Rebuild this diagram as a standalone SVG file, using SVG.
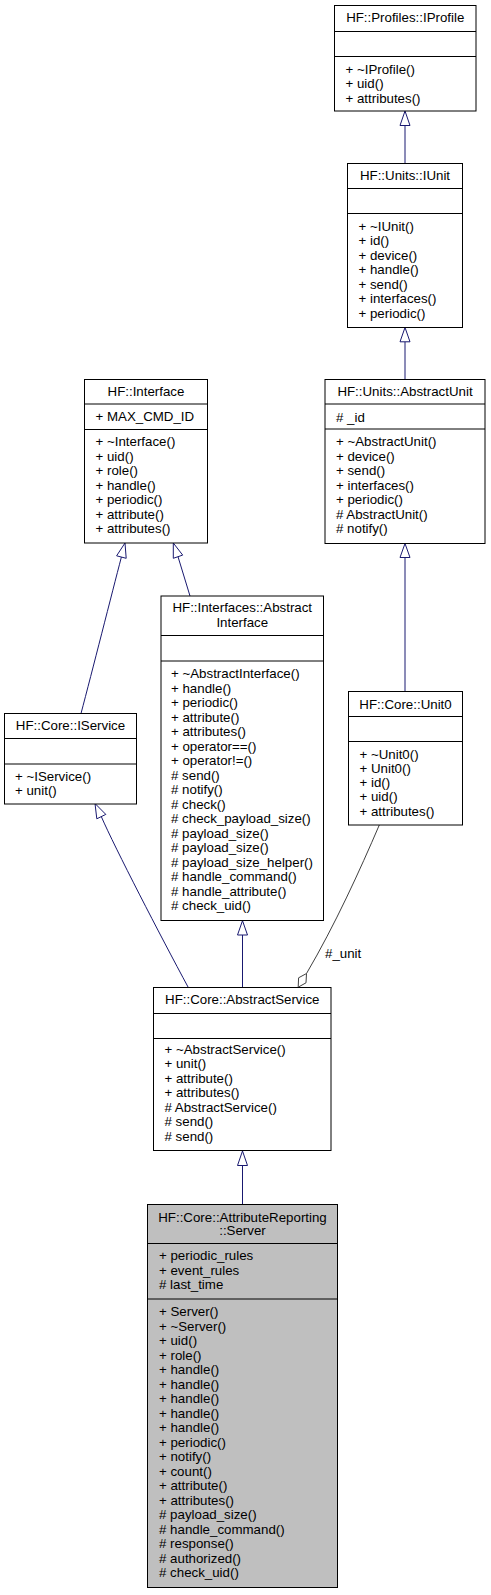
<svg xmlns="http://www.w3.org/2000/svg" width="491" height="1595" viewBox="0 0 491 1595">
<style>
.box{fill:#fff;stroke:#000;stroke-width:1}
.hl{fill:#bfbfbf;stroke:#000;stroke-width:1}
.sep{stroke:#000;stroke-width:1}
text{font-family:"Liberation Sans",Arial,sans-serif;font-size:13.3px;fill:#000}
.c{text-anchor:middle}
.edge{fill:none;stroke:#191970;stroke-width:1}
.ah{fill:#fff;stroke:#191970;stroke-width:1}
.agg{fill:none;stroke:#404040;stroke-width:1}
.dm{fill:#fff;stroke:#404040;stroke-width:1}
</style>
<rect x="0" y="0" width="491" height="1595" fill="#fff"/>
<g id="connectors">
  <line class="edge" x1="405" y1="163.5" x2="405" y2="125.5"/>
  <polygon class="ah" points="405,111 400,125.5 410,125.5"/>
  <line class="edge" x1="405" y1="379.5" x2="405" y2="341.8"/>
  <polygon class="ah" points="405,327.5 400,341.8 410,341.8"/>
  <line class="edge" x1="405" y1="691.5" x2="405" y2="557.5"/>
  <polygon class="ah" points="405,543.5 400,557.5 410,557.5"/>
  <path class="edge" d="M121.4,557 C112,593 92,672 81,713.5"/>
  <polygon class="ah" points="125,543 116.6,555.8 126.2,558.3"/>
  <path class="edge" d="M178,556.7 L190,596"/>
  <polygon class="ah" points="173.3,543 173.3,558.3 182.7,555.1"/>
  <path class="edge" d="M101.3,816.6 C115,848 160,935 188.3,987.5"/>
  <polygon class="ah" points="95,803.5 96.8,818.8 105.8,814.4"/>
  <line class="edge" x1="242.5" y1="987.5" x2="242.5" y2="935"/>
  <polygon class="ah" points="242.5,920.7 237.5,935 247.5,935"/>
  <line class="edge" x1="242.5" y1="1204.5" x2="242.5" y2="1165.5"/>
  <polygon class="ah" points="242.5,1151 237.5,1165.5 247.5,1165.5"/>
  <path class="agg" d="M379.3,825 C360,870 335,925 306.5,973.5"/>
  <polygon class="dm" points="306.5,973.5 306,982.8 298.2,987.2 298.6,977.8"/>
  <text x="325" y="958">#_unit</text>
</g>
<g id="node_iprofile">
  <rect class="box" x="334.5" y="5.5" width="141.5" height="105.5"/>
  <line class="sep" x1="334.5" y1="31.5" x2="476" y2="31.5"/>
  <line class="sep" x1="334.5" y1="56.5" x2="476" y2="56.5"/>
  <text class="c" x="405.25" y="22">HF::Profiles::IProfile</text>
  <text x="345.5" y="74">+ ~IProfile()</text>
  <text x="345.5" y="88.3">+ uid()</text>
  <text x="345.5" y="102.6">+ attributes()</text>
</g>
<g id="node_iunit">
  <rect class="box" x="347.5" y="163.5" width="115" height="164"/>
  <line class="sep" x1="347.5" y1="188.5" x2="462.5" y2="188.5"/>
  <line class="sep" x1="347.5" y1="213.5" x2="462.5" y2="213.5"/>
  <text class="c" x="405" y="180">HF::Units::IUnit</text>
  <text x="358.5" y="230.7">+ ~IUnit()</text>
  <text x="358.5" y="245.2">+ id()</text>
  <text x="358.5" y="259.7">+ device()</text>
  <text x="358.5" y="274.2">+ handle()</text>
  <text x="358.5" y="288.7">+ send()</text>
  <text x="358.5" y="303.2">+ interfaces()</text>
  <text x="358.5" y="317.7">+ periodic()</text>
</g>
<g id="node_abstractunit">
  <rect class="box" x="325" y="379.5" width="160" height="164"/>
  <line class="sep" x1="325" y1="404" x2="485" y2="404"/>
  <line class="sep" x1="325" y1="429" x2="485" y2="429"/>
  <text class="c" x="405" y="396">HF::Units::AbstractUnit</text>
  <text x="336" y="421.5"># _id</text>
  <text x="336" y="446">+ ~AbstractUnit()</text>
  <text x="336" y="460.5">+ device()</text>
  <text x="336" y="475">+ send()</text>
  <text x="336" y="489.5">+ interfaces()</text>
  <text x="336" y="504">+ periodic()</text>
  <text x="336" y="518.5"># AbstractUnit()</text>
  <text x="336" y="533"># notify()</text>
</g>
<g id="node_interface">
  <rect class="box" x="84.5" y="379.5" width="123" height="163.5"/>
  <line class="sep" x1="84.5" y1="404" x2="207.5" y2="404"/>
  <line class="sep" x1="84.5" y1="429.5" x2="207.5" y2="429.5"/>
  <text class="c" x="146" y="395.5">HF::Interface</text>
  <text x="95.5" y="421">+ MAX_CMD_ID</text>
  <text x="95.5" y="446">+ ~Interface()</text>
  <text x="95.5" y="460.5">+ uid()</text>
  <text x="95.5" y="475">+ role()</text>
  <text x="95.5" y="489.5">+ handle()</text>
  <text x="95.5" y="504">+ periodic()</text>
  <text x="95.5" y="518.5">+ attribute()</text>
  <text x="95.5" y="533">+ attributes()</text>
</g>
<g id="node_abstractinterface">
  <rect class="box" x="161" y="596" width="162.5" height="324.5"/>
  <line class="sep" x1="161" y1="635.5" x2="323.5" y2="635.5"/>
  <line class="sep" x1="161" y1="661" x2="323.5" y2="661"/>
  <text class="c" x="242.25" y="611.5">HF::Interfaces::Abstract</text>
  <text class="c" x="242.25" y="626.5">Interface</text>
  <text x="171" y="678">+ ~AbstractInterface()</text>
  <text x="171" y="692.5">+ handle()</text>
  <text x="171" y="707">+ periodic()</text>
  <text x="171" y="721.5">+ attribute()</text>
  <text x="171" y="736">+ attributes()</text>
  <text x="171" y="750.5">+ operator==()</text>
  <text x="171" y="765">+ operator!=()</text>
  <text x="171" y="779.5"># send()</text>
  <text x="171" y="794"># notify()</text>
  <text x="171" y="808.5"># check()</text>
  <text x="171" y="823"># check_payload_size()</text>
  <text x="171" y="837.5"># payload_size()</text>
  <text x="171" y="852"># payload_size()</text>
  <text x="171" y="866.5"># payload_size_helper()</text>
  <text x="171" y="881"># handle_command()</text>
  <text x="171" y="895.5"># handle_attribute()</text>
  <text x="171" y="910"># check_uid()</text>
</g>
<g id="node_iservice">
  <rect class="box" x="4.5" y="713.5" width="132" height="90.5"/>
  <line class="sep" x1="4.5" y1="738.5" x2="136.5" y2="738.5"/>
  <line class="sep" x1="4.5" y1="764" x2="136.5" y2="764"/>
  <text class="c" x="70.5" y="730">HF::Core::IService</text>
  <text x="15" y="780.5">+ ~IService()</text>
  <text x="15" y="795">+ unit()</text>
</g>
<g id="node_unit0">
  <rect class="box" x="348.5" y="691.5" width="114" height="133.5"/>
  <line class="sep" x1="348.5" y1="716.5" x2="462.5" y2="716.5"/>
  <line class="sep" x1="348.5" y1="741.5" x2="462.5" y2="741.5"/>
  <text class="c" x="405.5" y="708.5">HF::Core::Unit0</text>
  <text x="359.5" y="758.7">+ ~Unit0()</text>
  <text x="359.5" y="772.9">+ Unit0()</text>
  <text x="359.5" y="787.1">+ id()</text>
  <text x="359.5" y="801.3">+ uid()</text>
  <text x="359.5" y="815.5">+ attributes()</text>
</g>
<g id="node_abstractservice">
  <rect class="box" x="153.5" y="987.5" width="177.5" height="163"/>
  <line class="sep" x1="153.5" y1="1013.5" x2="331" y2="1013.5"/>
  <line class="sep" x1="153.5" y1="1038.5" x2="331" y2="1038.5"/>
  <text class="c" x="242.25" y="1003.5">HF::Core::AbstractService</text>
  <text x="164.5" y="1053.5">+ ~AbstractService()</text>
  <text x="164.5" y="1068">+ unit()</text>
  <text x="164.5" y="1082.5">+ attribute()</text>
  <text x="164.5" y="1097">+ attributes()</text>
  <text x="164.5" y="1111.5"># AbstractService()</text>
  <text x="164.5" y="1126"># send()</text>
  <text x="164.5" y="1140.5"># send()</text>
</g>
<g id="node_server">
  <rect class="hl" x="147.5" y="1204.5" width="190" height="383"/>
  <line class="sep" x1="147.5" y1="1243.5" x2="337.5" y2="1243.5"/>
  <line class="sep" x1="147.5" y1="1299" x2="337.5" y2="1299"/>
  <text class="c" x="242.5" y="1221.5">HF::Core::AttributeReporting</text>
  <text class="c" x="242.5" y="1235">::Server</text>
  <text x="159" y="1260">+ periodic_rules</text>
  <text x="159" y="1274.5">+ event_rules</text>
  <text x="159" y="1289"># last_time</text>
  <text x="159" y="1316">+ Server()</text>
  <text x="159" y="1330.5">+ ~Server()</text>
  <text x="159" y="1345">+ uid()</text>
  <text x="159" y="1359.5">+ role()</text>
  <text x="159" y="1374">+ handle()</text>
  <text x="159" y="1388.5">+ handle()</text>
  <text x="159" y="1403">+ handle()</text>
  <text x="159" y="1417.5">+ handle()</text>
  <text x="159" y="1432">+ handle()</text>
  <text x="159" y="1446.5">+ periodic()</text>
  <text x="159" y="1461">+ notify()</text>
  <text x="159" y="1475.5">+ count()</text>
  <text x="159" y="1490">+ attribute()</text>
  <text x="159" y="1504.5">+ attributes()</text>
  <text x="159" y="1519"># payload_size()</text>
  <text x="159" y="1533.5"># handle_command()</text>
  <text x="159" y="1548"># response()</text>
  <text x="159" y="1562.5"># authorized()</text>
  <text x="159" y="1577"># check_uid()</text>
</g>
</svg>
